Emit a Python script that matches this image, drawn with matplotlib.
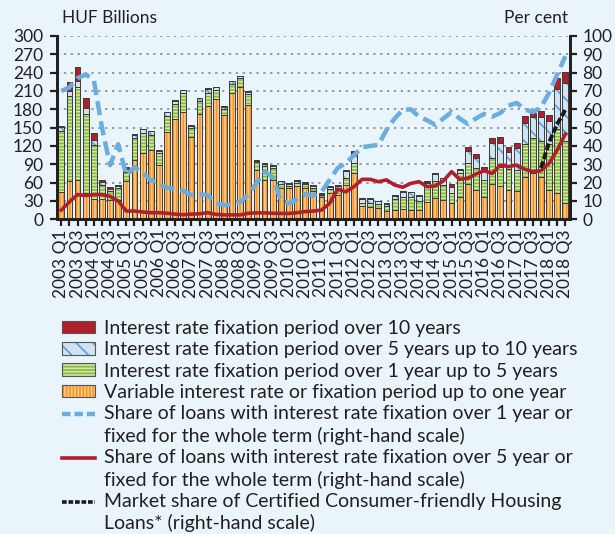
import numpy as np
import matplotlib
matplotlib.use('Agg')
import matplotlib.pyplot as plt
from matplotlib.patches import Patch
from matplotlib.lines import Line2D
from matplotlib.legend_handler import HandlerLine2D

# quarterly data 2003 Q1 - 2018 Q3
quarters = [f'{y} Q{q}' for y in range(2003, 2019) for q in range(1, 5)][:63]
tick_labels = [q if q.endswith(('Q1', 'Q3')) else '' for q in quarters]

# new housing loans by interest rate fixation, HUF billions
var_rate = [45, 62, 64, 42.5, 33, 33, 32, 32, 62, 97, 109, 113, 89, 143.5, 164, 176,
            134, 173, 185, 197, 170, 207, 217, 187, 80, 65, 64, 51, 51, 55, 51, 46,
            37, 42.5, 40, 56, 76, 22, 20, 18, 13, 16, 17, 16, 16, 28, 35.5, 32,
            26, 37, 58, 48, 36, 58, 54.5, 48, 46, 68.7, 75, 68.7, 48, 42.5, 27]
fix_1_5 = [99.5, 140, 152, 130.5, 89, 23, 14, 19, 16, 36, 33, 25, 19, 25.5, 25, 30,
           15, 21, 21, 15, 10, 14, 14, 18, 13, 22, 20.5, 7, 4, 5, 6, 6,
           3, 6.5, 12, 12, 16, 5, 7, 6.5, 8, 17, 20, 20, 14.5, 31, 27.5, 24,
           16.5, 38, 33.6, 35.5, 28, 42, 31.5, 34, 34.7, 55.3, 57.5, 60, 76, 105.5, 101.7]
fix_5_10 = [6.5, 8, 11, 9, 7, 5, 4, 4, 4, 5, 5, 6, 4, 6, 5, 5,
            4, 4, 8, 4, 4, 5, 3, 4, 3, 4, 3.5, 4, 3, 3, 3, 3,
            2, 4.5, 3, 11, 14, 6, 6, 5, 4, 5, 8, 8, 7.5, 2, 11, 11,
            11, 6, 20.8, 16.5, 16.7, 25.5, 39.5, 28.7, 35.3, 34, 34.5, 38.3, 37.5, 66, 93.8]
fix_10 = [2, 15, 23, 16, 13, 3, 3, 1, 3, 1, 1, 1, 1, 1, 1, 1,
          1, 1, 1, 1, 1, 1, 1, 1, 1, 1, 1, 1, 1, 1, 1, 1,
          0.5, 1, 1, 2, 5, 2, 2, 1, 1, 1, 1, 1, 1, 1, 1, 1,
          4.5, 1, 6.6, 7, 5.3, 7, 8.5, 8.3, 9.5, 11, 7.5, 10, 9.5, 17, 18]

# shares, per cent (right-hand scale)
share_1y = [70, 72, 77, 79, 76, 50, 29.5, 41, 24, 28.5, 25.5, 21.5, 19.3, 17.3, 16.4, 15.5,
            13.3, 13.8, 13.3, 8.7, 7.8, 8, 9.6, 13.3, 19.7, 26, 23, 10.5, 8.7, 11, 13.7, 13,
            15, 21.5, 28, 30.6, 35, 39.3, 40, 40.6, 48.8, 55, 59.7, 60, 56, 54, 51.5, 55,
            58.5, 55, 52, 55, 57.5, 56, 58, 62, 63.5, 60, 58.5, 61, 69, 79, 89]
share_5y = [5, 9.5, 13.5, 13, 13.5, 13.5, 12.5, 10, 4.5, 4.5, 4, 3.6, 3.6, 3.3, 2.8, 2.5,
            2.8, 3, 3.6, 2.7, 2.4, 2.4, 2.4, 3.3, 3.5, 3.5, 3.3, 3.2, 3.2, 3.6, 4.2, 4.5,
            5, 8.7, 16.4, 15, 17.8, 21.8, 21.8, 20.5, 21.5, 18.7, 17.5, 19.6, 20.5, 17.8, 18.2, 21,
            26, 21.8, 22.4, 24.7, 26.5, 25, 29.6, 28.7, 29.6, 27.3, 26, 26.5, 30.5, 37.8, 46.5]
ccfhl = [np.nan] * 59 + [28, 42, 52, 59.7]

bg = '#E9F4FB'
orange, orange_l = '#F7941D', '#FCC88C'
green, green_l = '#86B83B', '#D0E8A8'
blue_l, blue = '#CFE3F4', '#5E9FD4'
red = '#B1202A'
edge = '#3C3C3C'
txt = '#231F20'

plt.rcParams['font.family'] = ['Lato', 'DejaVu Sans']
plt.rcParams['hatch.linewidth'] = 1.2


# legend lines sit on the first line of a two-line label
class FirstLineHandler(HandlerLine2D):
    def create_artists(self, legend, orig_handle, xdescent, ydescent, width, height, fontsize, trans):
        arts = super().create_artists(legend, orig_handle, xdescent, ydescent, width, height, fontsize, trans)
        for a in arts:
            a.set_ydata(np.asarray(a.get_ydata()) + 0.58 * fontsize)
        return arts


fig = plt.figure(figsize=(6.15, 5.34), dpi=100, facecolor=bg)
ax = fig.add_axes([57 / 615, 1 - 219.3 / 534, 513 / 615, 183.3 / 534])
ax.set_facecolor(bg)

x = np.arange(len(quarters))
w = 0.72
segments = [
    (var_rate, orange, orange_l, '|||||', 'Variable interest rate or fixation period up to one year'),
    (fix_1_5, green, green_l, '-----', 'Interest rate fixation period over 1 year up to 5 years'),
    (fix_5_10, blue_l, blue, '\\\\', 'Interest rate fixation period over 5 years up to 10 years'),
    (fix_10, red, red, None, 'Interest rate fixation period over 10 years'),
]
bottom = np.zeros(len(x))
handles = {}
for vals, face, hcol, hatch, label in segments:
    vals = np.array(vals, dtype=float)
    ax.bar(x, vals, w, bottom=bottom, color=face, edgecolor=hcol, hatch=hatch, linewidth=0, zorder=2)
    ax.bar(x, vals, w, bottom=bottom, fill=False, edgecolor=edge, linewidth=0.7, zorder=3)
    handles[label] = (Patch(facecolor=face, edgecolor=hcol, hatch=hatch, linewidth=0),
                      Patch(fill=False, edgecolor='#555555', linewidth=0.8))
    bottom += vals

ax.set_xlim(-0.53, 62.57)
ax.set_ylim(0, 300)
ax.set_yticks(range(0, 301, 30))
ax.set_xticks(x)
ax.set_xticklabels(tick_labels)
ax.set_axisbelow(True)
ax.grid(axis='y', color='#808080', linestyle=(0, (1.5, 3)), linewidth=1.1)
ax.tick_params(axis='y', direction='out', length=5, width=1.6, labelsize=12.5, pad=5, colors=txt)
ax.tick_params(axis='x', direction='out', length=5, width=1.6, labelsize=12.5, pad=2,
               labelrotation=90, colors=txt)
for s in ['left', 'right', 'bottom']:
    ax.spines[s].set_linewidth(2)
    ax.spines[s].set_color(txt)
ax.spines['top'].set_visible(False)

ax2 = ax.twinx()
ax2.set_ylim(0, 100)
ax2.set_yticks(range(0, 101, 10))
ax2.plot(x, share_1y, color='#6AADDE', lw=3.2, dashes=(3.2, 1.4), zorder=4)
ax2.plot(x, share_5y, color=red, lw=2.6, zorder=5)
ax2.plot(x, ccfhl, color='#1A1A1A', lw=2.8, dashes=(1.8, 0.6), zorder=6)
ax2.tick_params(axis='y', direction='out', length=5, width=1.6, labelsize=12.5, pad=4, colors=txt)
for s in ['left', 'right', 'bottom']:
    ax2.spines[s].set_linewidth(2)
    ax2.spines[s].set_color(txt)
ax2.spines['top'].set_visible(False)

fig.text(62 / 615, 1 - 18 / 534, 'HUF Billions', ha='left', va='center', fontsize=12.5, color=txt)
fig.text(568 / 615, 1 - 18 / 534, 'Per cent', ha='right', va='center', fontsize=12.5, color=txt)

line_handles = [
    Line2D([], [], color='#6AADDE', lw=3.2, dashes=(1.9, 0.9)),
    Line2D([], [], color=red, lw=2.6),
    Line2D([], [], color='#1A1A1A', lw=2.6, dashes=(1.3, 0.5)),
]
leg_handles = [handles[s[4]] for s in segments[::-1]] + line_handles
leg_labels = [s[4] for s in segments[::-1]] + [
    'Share of loans with interest rate fixation over 1 year or\nfixed for the whole term (right-hand scale)',
    'Share of loans with interest rate fixation over 5 year or\nfixed for the whole term (right-hand scale)',
    'Market share of Certified Consumer-friendly Housing\nLoans* (right-hand scale)',
]
leg = fig.legend(leg_handles, leg_labels, loc='upper left', bbox_to_anchor=(62 / 615, 1 - 320 / 534),
                 frameon=False, fontsize=14, handlelength=1.7, handleheight=0.62, handletextpad=0.46,
                 labelspacing=0.22, borderpad=0, borderaxespad=0, labelcolor=txt,
                 handler_map={h: FirstLineHandler() for h in line_handles})
for t in leg.get_texts():
    t.set_linespacing(1.3)

fig.savefig('out.png', dpi=100, facecolor=bg)
